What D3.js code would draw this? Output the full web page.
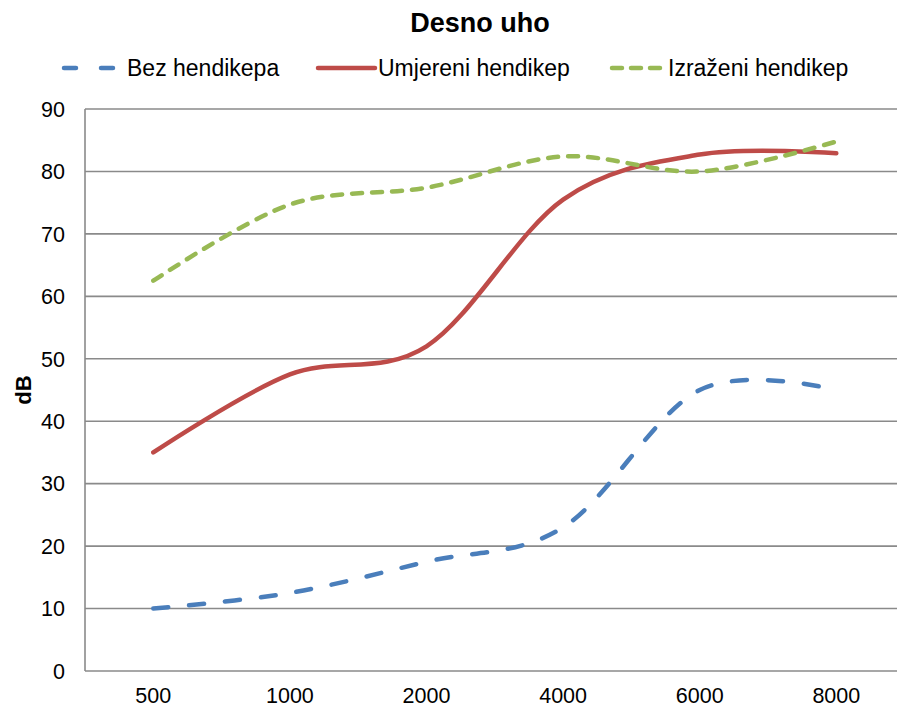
<!DOCTYPE html>
<html>
<head>
<meta charset="utf-8">
<script src="https://cdn.jsdelivr.net/npm/d3@7"></script>
<style>
  body { margin: 0; background: #fff; }
  text { font-family: "Liberation Sans", Arial, sans-serif; fill: #000; }
</style>
</head>
<body>
<div id="chart"></div>
<script>
// frequencies (categories) and dB values per group
const categories = ["500", "1000", "2000", "4000", "6000", "8000"];
const bezHendikepa = [10, 12.5, 17.5, 23, 45, 45];
const umjereniHendikep = [35, 47.5, 52, 75.5, 82.7, 82.9];
const izrazeniHendikep = [62.5, 74.7, 77.4, 82.4, 80, 84.8];
const yTicks = [0, 10, 20, 30, 40, 50, 60, 70, 80, 90];

const series = [
  {name: "Bez hendikepa", values: bezHendikepa, color: "#4A7EBB", dash: "15 21"},
  {name: "Umjereni hendikep", values: umjereniHendikep, color: "#BE4B48", dash: null},
  {name: "Izraženi hendikep", values: izrazeniHendikep, color: "#98B954", dash: "10 10"}
];

const width = 897, height = 708;
const plotLeft = 85, plotTop = 109, plotBottom = 671;
const plotRight = plotLeft + 6 * 136.6;

const svg = d3.select("#chart").append("svg")
  .attr("width", width)
  .attr("height", height);

const x = d3.scalePoint()
  .domain(categories)
  .range([plotLeft, plotRight])
  .padding(0.5);

const y = d3.scaleLinear()
  .domain([0, 90])
  .range([plotBottom, plotTop]);

// gridlines
svg.append("g")
  .selectAll("line")
  .data(yTicks)
  .enter()
  .append("line")
  .attr("x1", plotLeft)
  .attr("x2", width)
  .attr("y1", d => y(d))
  .attr("y2", d => y(d))
  .attr("stroke", "#8a8a8a")
  .attr("stroke-width", 1.6);

// y axis line
svg.append("line")
  .attr("x1", plotLeft).attr("x2", plotLeft)
  .attr("y1", plotTop).attr("y2", plotBottom)
  .attr("stroke", "#8a8a8a")
  .attr("stroke-width", 1.6);

// y tick labels
svg.append("g")
  .selectAll("text")
  .data(yTicks)
  .enter()
  .append("text")
  .attr("x", 65)
  .attr("y", d => y(d))
  .attr("dy", "0.36em")
  .attr("text-anchor", "end")
  .attr("font-size", 21.5)
  .text(d => d);

// x labels
svg.append("g")
  .selectAll("text")
  .data(categories)
  .enter()
  .append("text")
  .attr("x", d => x(d))
  .attr("y", 703)
  .attr("text-anchor", "middle")
  .attr("font-size", 21.5)
  .text(d => d);

// y title
svg.append("text")
  .attr("transform", "translate(31,390) rotate(-90)")
  .attr("text-anchor", "middle")
  .attr("font-size", 22)
  .attr("font-weight", "bold")
  .text("dB");

// title
svg.append("text")
  .attr("x", 480)
  .attr("y", 32)
  .attr("text-anchor", "middle")
  .attr("font-size", 27)
  .attr("font-weight", "bold")
  .text("Desno uho");

// lines (smoothed like excel)
const line = d3.line()
  .x((d, i) => x(categories[i]))
  .y(d => y(d))
  .curve(d3.curveCardinal.tension(0));

svg.append("g")
  .selectAll("path")
  .data(series)
  .enter()
  .append("path")
  .attr("d", d => line(d.values))
  .attr("fill", "none")
  .attr("stroke", d => d.color)
  .attr("stroke-width", 4.5)
  .attr("stroke-linecap", "round")
  .attr("stroke-dasharray", d => d.dash);

// legend
const legendPos = [
  {x1: 64, x2: 116, tx: 127},
  {x1: 318, x2: 375, tx: 378},
  {x1: 612, x2: 664, tx: 668}
];
const legend = svg.append("g")
  .selectAll("g")
  .data(series)
  .enter()
  .append("g");

legend.append("line")
  .attr("x1", (d, i) => legendPos[i].x1)
  .attr("x2", (d, i) => legendPos[i].x2)
  .attr("y1", 68).attr("y2", 68)
  .attr("stroke", d => d.color)
  .attr("stroke-width", 4.5)
  .attr("stroke-linecap", "round")
  .attr("stroke-dasharray", (d, i) => i == 0 ? "12 25" : (i == 2 ? "10 9" : null));

legend.append("text")
  .attr("x", (d, i) => legendPos[i].tx)
  .attr("y", 68)
  .attr("dy", "0.36em")
  .attr("font-size", 23)
  .text(d => d.name);
</script>
</body>
</html>
